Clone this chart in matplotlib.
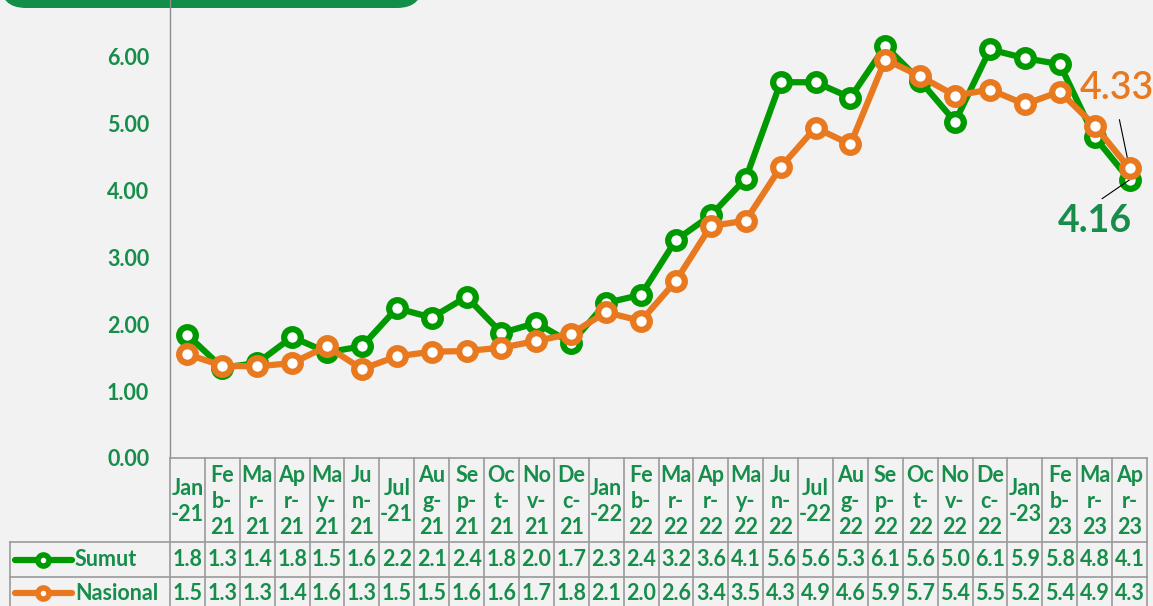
import numpy as np
import matplotlib as mpl
mpl.use("Agg")
import matplotlib.pyplot as plt
from matplotlib.patches import FancyBboxPatch
from matplotlib.transforms import IdentityTransform, blended_transform_factory

plt.rcParams["font.family"] = ["Lato", "DejaVu Sans"]

months = ["Jan-21", "Feb-21", "Mar-21", "Apr-21", "May-21", "Jun-21", "Jul-21", "Aug-21",
          "Sep-21", "Oct-21", "Nov-21", "Dec-21", "Jan-22", "Feb-22", "Mar-22", "Apr-22",
          "May-22", "Jun-22", "Jul-22", "Aug-22", "Sep-22", "Oct-22", "Nov-22", "Dec-22",
          "Jan-23", "Feb-23", "Mar-23", "Apr-23"]
sumut = [1.84, 1.35, 1.42, 1.81, 1.58, 1.67, 2.24, 2.10, 2.41, 1.87, 2.02, 1.72, 2.32, 2.44,
         3.26, 3.63, 4.18, 5.62, 5.62, 5.39, 6.16, 5.64, 5.03, 6.11, 5.98, 5.89, 4.80, 4.16]
nasional = [1.55, 1.38, 1.37, 1.42, 1.67, 1.33, 1.52, 1.59, 1.60, 1.65, 1.75, 1.86, 2.18, 2.05,
            2.65, 3.47, 3.55, 4.35, 4.94, 4.69, 5.96, 5.71, 5.42, 5.51, 5.29, 5.48, 4.97, 4.33]
series_names = ["Sumut", "Nasional"]
yticks = [0, 1, 2, 3, 4, 5, 6]

BG = "#F2F2F2"
GREEN = "#009A00"
ORANGE = "#E8791F"
TXT = "#168D4A"
BOX = "#118E48"
GRID = "#9A9A9A"
W, H = 1153, 606
FS = 15.5


def wrap(m):
    # excel-style wrapping in narrow cells
    if m[:3] in ("Jan", "Jul"):
        return m[:3] + "\n" + m[3:]
    return m[:2] + "\n" + m[2:4] + "\n" + m[4:]


def trunc(v):
    return "%.1f" % (int(v * 10 + 1e-9) / 10)


fig = plt.figure(figsize=(W / 100, H / 100), dpi=100, facecolor=BG)

# green title tab at the top left (cut off)
fig.patches.append(FancyBboxPatch((0, H - 8), 423, 80, boxstyle="round,pad=0,rounding_size=26",
                                  transform=IdentityTransform(), fc=BOX, ec="none", zorder=-1))

ax = fig.add_axes([170 / W, 1 - 458 / H, 977 / W, 458 / H])
ax.set_facecolor("none")
x = np.arange(len(months))
ax.plot(x, sumut, color=GREEN, lw=4.5, marker="o", ms=12, mew=4.5, mfc="white", mec=GREEN, zorder=3)
ax.plot(x, nasional, color=ORANGE, lw=4.5, marker="o", ms=12, mew=4.5, mfc="white", mec=ORANGE, zorder=4)
ax.set_xlim(-0.5, len(months) - 0.5)
ax.set_ylim(0, 6.85)
for s in ("top", "right", "bottom"):
    ax.spines[s].set_visible(False)
ax.spines["left"].set_color("#8C8C8C")
ax.spines["left"].set_linewidth(1.0)
ax.set_xticks([])
ax.set_yticks(yticks)
ax.set_yticklabels(["%.2f" % v for v in yticks])
ax.tick_params(axis="y", length=0, pad=15, labelsize=FS, labelcolor=TXT)
for t in ax.get_yticklabels():
    t.set_fontweight("bold")

ax.annotate("4.33", xy=(x[-1], nasional[-1]), xytext=(-13, 80), textcoords="offset pixels",
            ha="center", va="center", fontsize=27, color=ORANGE, fontweight="semibold", annotation_clip=False,
            arrowprops=dict(arrowstyle="-", color="black", lw=0.8, shrinkA=8, shrinkB=0, relpos=(0.5, 0)))
ax.annotate("4.16", xy=(x[-1], sumut[-1]), xytext=(-35, -41), textcoords="offset pixels",
            ha="center", va="center", fontsize=27, color=TXT, fontweight="bold", annotation_clip=False,
            arrowprops=dict(arrowstyle="-", color="black", lw=0.8, shrinkA=3, shrinkB=0, relpos=(0.5, 1)))

# data table below the chart
tx = fig.add_axes([170 / W, 0, 977 / W, 148 / H])
tx.set_facecolor("none")
tx.axis("off")
tx.set_xlim(-0.5, len(months) - 0.5)
tx.set_ylim(606, 458)
n = len(months)
fx = blended_transform_factory(fig.transFigure, tx.transData)
kw = dict(color=GRID, lw=1.2, clip_on=False)
tx.plot([-0.5, n - 0.5], [458, 458], **kw)
for yy in (542, 577):
    tx.plot([10 / W, 1147 / W], [yy, yy], transform=fx, **kw)
for i in range(n + 1):
    tx.plot([i - 0.5, i - 0.5], [458, 606], **kw)
tx.plot([10 / W, 10 / W], [542, 606], transform=fx, **kw)

for i, m in enumerate(months):
    tx.text(i, 501.5, wrap(m), ha="center", va="center", fontsize=FS, fontweight="bold",
            color=TXT, linespacing=1.3)
rows = [(sumut, GREEN, 559.5), (nasional, ORANGE, 593)]
for (vals, col, yy), name in zip(rows, series_names):
    for i, v in enumerate(vals):
        tx.text(i, yy, trunc(v), ha="center", va="center", fontsize=FS, fontweight="bold", color=TXT)
    tx.plot([15 / W, 72 / W], [yy, yy], transform=fx, color=col, lw=4.5, solid_capstyle="round", clip_on=False)
    tx.plot([43 / W], [yy], transform=fx, marker="o", ms=8, mew=4, mfc="white", mec=col, clip_on=False)
    tx.text(75 / W, yy, name, transform=fx, ha="left", va="center", fontsize=FS, fontweight="bold", color=TXT)

fig.savefig("out.png", dpi=100, facecolor=BG)
